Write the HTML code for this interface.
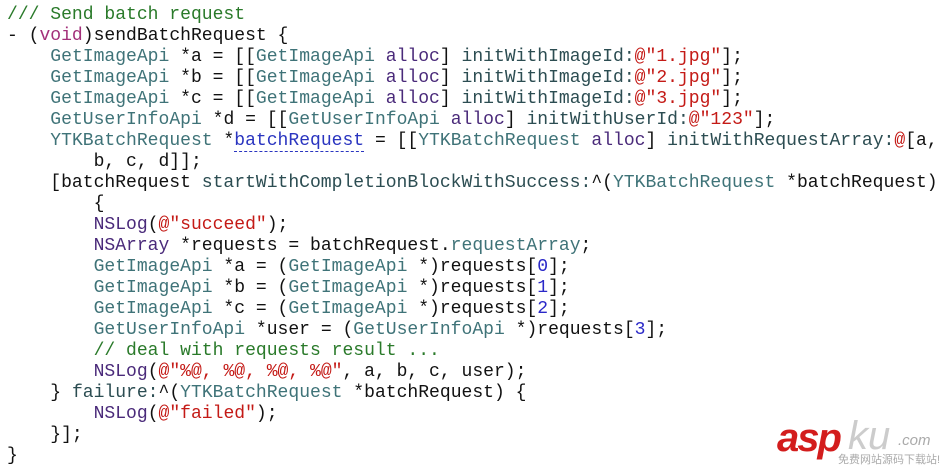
<!DOCTYPE html>
<html><head><meta charset="utf-8"><style>
html,body{margin:0;padding:0;background:#fff;width:948px;height:471px;overflow:hidden;position:relative}
pre{margin:0;position:absolute;left:7px;top:5px;font-family:"Liberation Mono",monospace;font-size:18.05px;line-height:21px;color:#111}
.c{color:#2a7a2a}.k{color:#a3307a}.t{color:#3f7378}.m{color:#2c4d52}.s{color:#c41a16}.n{color:#2a28c8}.p{color:#4a2a7a}
.u{color:#2a35c0;border-bottom:1px dashed #2a35c0}
.logo{position:absolute;left:777px;top:418px;font-family:"Liberation Sans",sans-serif;font-weight:bold;font-style:italic;font-size:40px;color:#d31d1d;letter-spacing:-2px;line-height:40px}
.logo2{position:absolute;left:848px;top:416px;font-family:"Liberation Sans",sans-serif;font-style:italic;font-size:40px;color:#ccc;line-height:40px}
.logo3{position:absolute;left:898px;top:432px;font-family:"Liberation Sans",sans-serif;font-style:italic;font-size:15px;color:#aaa}
.logo4{position:absolute;left:838px;top:451px;font-family:"Liberation Sans","Noto Sans CJK SC",sans-serif;font-size:11px;color:#aaa}
</style></head><body>
<pre><span class="c">/// Send batch request</span>
- (<span class="k">void</span>)sendBatchRequest {
    <span class="t">GetImageApi</span> *a = [[<span class="t">GetImageApi</span> <span class="p">alloc</span>] <span class="m">initWithImageId:</span><span class="s">@"1.jpg"</span>];
    <span class="t">GetImageApi</span> *b = [[<span class="t">GetImageApi</span> <span class="p">alloc</span>] <span class="m">initWithImageId:</span><span class="s">@"2.jpg"</span>];
    <span class="t">GetImageApi</span> *c = [[<span class="t">GetImageApi</span> <span class="p">alloc</span>] <span class="m">initWithImageId:</span><span class="s">@"3.jpg"</span>];
    <span class="t">GetUserInfoApi</span> *d = [[<span class="t">GetUserInfoApi</span> <span class="p">alloc</span>] <span class="m">initWithUserId:</span><span class="s">@"123"</span>];
    <span class="t">YTKBatchRequest</span> *<span class="u">batchRequest</span> = [[<span class="t">YTKBatchRequest</span> <span class="p">alloc</span>] <span class="m">initWithRequestArray:</span><span class="s">@</span>[a,
        b, c, d]];
    [batchRequest <span class="m">startWithCompletionBlockWithSuccess:</span>^(<span class="t">YTKBatchRequest</span> *batchRequest)
        {
        <span class="p">NSLog</span>(<span class="s">@"succeed"</span>);
        <span class="p">NSArray</span> *requests = batchRequest.<span class="t">requestArray</span>;
        <span class="t">GetImageApi</span> *a = (<span class="t">GetImageApi</span> *)requests[<span class="n">0</span>];
        <span class="t">GetImageApi</span> *b = (<span class="t">GetImageApi</span> *)requests[<span class="n">1</span>];
        <span class="t">GetImageApi</span> *c = (<span class="t">GetImageApi</span> *)requests[<span class="n">2</span>];
        <span class="t">GetUserInfoApi</span> *user = (<span class="t">GetUserInfoApi</span> *)requests[<span class="n">3</span>];
        <span class="c">// deal with requests result ...</span>
        <span class="p">NSLog</span>(<span class="s">@"%@, %@, %@, %@"</span>, a, b, c, user);
    } <span class="m">failure:</span>^(<span class="t">YTKBatchRequest</span> *batchRequest) {
        <span class="p">NSLog</span>(<span class="s">@"failed"</span>);
    }];
}</pre>
<div class="logo">asp</div>
<div class="logo2">ku</div>
<div class="logo3">.com</div>
<div class="logo4">免费网站源码下载站!</div>
</body></html>
